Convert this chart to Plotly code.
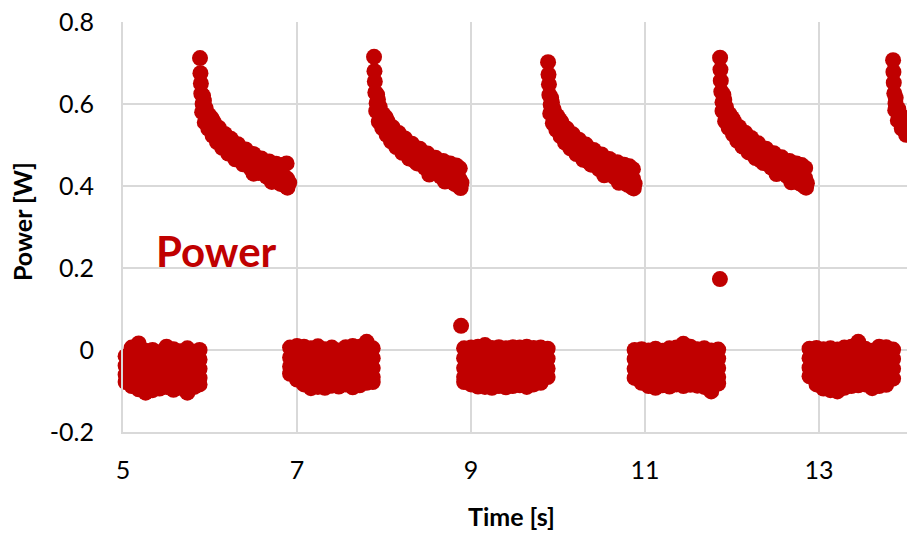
import plotly.graph_objects as go

# ---- measured power samples [W] vs. time [s] ----
# "off" phases: sample times (columns) and the power readings taken around each time
off1_cols = [5.03, 5.10, 5.18, 5.26, 5.34, 5.42, 5.50, 5.58, 5.66, 5.74, 5.82, 5.88]
off1_vals = [[-0.015, -0.038, -0.060, -0.078],
             [0.006, -0.020, -0.044, -0.068, -0.088],
             [0.016, -0.012, -0.040, -0.066, -0.096],
             [-0.002, -0.024, -0.048, -0.074, -0.104],
             [0.000, -0.022, -0.046, -0.072, -0.098],
             [-0.006, -0.028, -0.051, -0.076, -0.094],
             [0.008, -0.018, -0.043, -0.069, -0.090],
             [0.002, -0.021, -0.047, -0.073, -0.097],
             [-0.003, -0.026, -0.050, -0.075, -0.092],
             [0.004, -0.019, -0.045, -0.070, -0.104],
             [-0.004, -0.027, -0.049, -0.074, -0.090],
             [0.000, -0.023, -0.046, -0.068, -0.084]]

off2_cols = [6.92, 7.00, 7.08, 7.16, 7.24, 7.32, 7.40, 7.48, 7.56, 7.64, 7.72, 7.80, 7.87]
off2_vals = [[0.006, -0.018, -0.040, -0.058],
             [0.010, -0.014, -0.038, -0.062, -0.072],
             [0.008, -0.016, -0.041, -0.066, -0.084],
             [0.004, -0.020, -0.045, -0.070, -0.093],
             [0.009, -0.015, -0.040, -0.066, -0.090],
             [0.002, -0.022, -0.047, -0.072, -0.092],
             [0.006, -0.019, -0.044, -0.068, -0.087],
             [-0.001, -0.024, -0.048, -0.071, -0.089],
             [0.007, -0.017, -0.042, -0.067, -0.084],
             [0.010, -0.016, -0.041, -0.066, -0.091],
             [0.008, -0.018, -0.043, -0.068, -0.086],
             [0.020, -0.006, -0.032, -0.058, -0.080],
             [0.004, -0.020, -0.044, -0.066, -0.078]]

off3_cols = [8.885, 8.92, 9.00, 9.08, 9.16, 9.24, 9.32, 9.40, 9.48, 9.56, 9.64, 9.72, 9.80, 9.88]
off3_vals = [[0.059],
             [0.004, -0.020, -0.044, -0.066, -0.078],
             [0.006, -0.018, -0.043, -0.068, -0.084],
             [0.008, -0.016, -0.041, -0.066, -0.089],
             [0.012, -0.013, -0.039, -0.065, -0.090],
             [0.005, -0.019, -0.044, -0.069, -0.092],
             [0.007, -0.018, -0.043, -0.068, -0.088],
             [0.004, -0.021, -0.046, -0.070, -0.091],
             [0.007, -0.017, -0.042, -0.067, -0.088],
             [0.006, -0.019, -0.044, -0.068, -0.086],
             [0.008, -0.016, -0.041, -0.066, -0.090],
             [0.005, -0.020, -0.045, -0.069, -0.084],
             [0.006, -0.018, -0.043, -0.064, -0.080],
             [0.003, -0.021, -0.045, -0.066]]

off4_cols = [10.88, 10.96, 11.04, 11.12, 11.20, 11.28, 11.36, 11.44, 11.52, 11.60, 11.68, 11.76,
             11.84, 11.86]
off4_vals = [[0.000, -0.022, -0.046, -0.068],
             [0.002, -0.020, -0.044, -0.068, -0.080],
             [-0.001, -0.024, -0.048, -0.072, -0.088],
             [0.003, -0.020, -0.045, -0.070, -0.092],
             [-0.002, -0.025, -0.049, -0.072, -0.086],
             [0.004, -0.019, -0.044, -0.069, -0.089],
             [0.006, -0.018, -0.043, -0.068, -0.084],
             [0.015, -0.010, -0.036, -0.062, -0.088],
             [0.008, -0.016, -0.041, -0.066, -0.085],
             [0.002, -0.021, -0.046, -0.070, -0.087],
             [0.004, -0.020, -0.045, -0.070, -0.090],
             [-0.001, -0.024, -0.050, -0.076, -0.101],
             [0.001, -0.021, -0.044, -0.066, -0.082],
             [0.173]]

off5_cols = [12.89, 12.97, 13.05, 13.13, 13.21, 13.29, 13.37, 13.45, 13.53, 13.61, 13.69, 13.77,
             13.85]
off5_vals = [[0.003, -0.020, -0.043, -0.064],
             [0.005, -0.018, -0.043, -0.068, -0.084],
             [0.002, -0.021, -0.046, -0.071, -0.094],
             [0.004, -0.019, -0.045, -0.071, -0.098],
             [0.001, -0.022, -0.047, -0.073, -0.101],
             [0.006, -0.018, -0.043, -0.068, -0.092],
             [0.008, -0.016, -0.041, -0.066, -0.088],
             [0.020, -0.006, -0.032, -0.058, -0.086],
             [0.003, -0.021, -0.046, -0.070, -0.084],
             [-0.002, -0.025, -0.049, -0.073, -0.093],
             [0.008, -0.016, -0.041, -0.066, -0.088],
             [0.007, -0.017, -0.042, -0.067, -0.085],
             [0.001, -0.022, -0.046, -0.070]]

# "on" phases: decaying power after each switch-on
on1_t = [5.885, 5.89, 5.895, 5.90, 5.915, 5.935, 5.96, 6.00, 6.04, 6.09, 6.15, 6.21,
         6.26, 6.33, 6.43, 6.52, 6.61, 6.69, 6.77, 6.84, 6.885,
         5.92, 5.95, 5.99, 6.04, 6.10, 6.17, 6.24, 6.32, 6.41, 6.50, 6.59, 6.68, 6.76, 6.83, 6.88,
         5.91, 5.94, 5.98, 6.03, 6.08, 6.14, 6.21, 6.29, 6.38, 6.47, 6.56, 6.65, 6.74, 6.81, 6.87,
         6.91, 5.93, 6.02, 6.36, 6.50, 6.71, 6.89]
on1_p = [0.712, 0.675, 0.650, 0.625, 0.600, 0.580, 0.565, 0.553, 0.538, 0.522, 0.508, 0.497,
         0.489, 0.478, 0.467, 0.456, 0.445, 0.438, 0.432, 0.425, 0.418,
         0.620, 0.590, 0.573, 0.557, 0.542, 0.527, 0.515, 0.502, 0.489, 0.478, 0.467, 0.460, 0.454,
         0.451, 0.455,
         0.580, 0.555, 0.540, 0.523, 0.507, 0.493, 0.479, 0.465, 0.453, 0.442, 0.432, 0.423, 0.413,
         0.405, 0.400, 0.408, 0.608, 0.565, 0.461, 0.430, 0.410, 0.396]

on2_t = [7.885, 7.89, 7.894, 7.90, 7.915, 7.935, 7.96, 7.995, 8.04, 8.09, 8.15, 8.21,
         8.27, 8.34, 8.43, 8.52, 8.61, 8.69, 8.76, 8.83, 8.87,
         7.92, 7.95, 7.99, 8.04, 8.10, 8.17, 8.24, 8.32, 8.41, 8.50, 8.59, 8.68, 8.76, 8.83, 8.87,
         7.91, 7.94, 7.98, 8.03, 8.08, 8.14, 8.21, 8.29, 8.38, 8.47, 8.56, 8.65, 8.74, 8.81, 8.86,
         8.89, 7.93, 8.02, 8.34, 8.52, 8.70, 8.88]
on2_p = [0.715, 0.680, 0.655, 0.628, 0.602, 0.583, 0.566, 0.551, 0.537, 0.523, 0.510, 0.498,
         0.487, 0.477, 0.466, 0.455, 0.446, 0.437, 0.430, 0.424, 0.416,
         0.623, 0.593, 0.575, 0.558, 0.543, 0.529, 0.516, 0.503, 0.491, 0.479, 0.469, 0.461, 0.455,
         0.450, 0.443,
         0.583, 0.557, 0.541, 0.525, 0.509, 0.495, 0.481, 0.467, 0.455, 0.444, 0.433, 0.423, 0.414,
         0.405, 0.399, 0.408, 0.611, 0.567, 0.463, 0.428, 0.411, 0.395]

on3_t = [9.885, 9.89, 9.895, 9.90, 9.915, 9.935, 9.96, 10.00, 10.04, 10.09, 10.15, 10.21,
         10.27, 10.34, 10.43, 10.52, 10.61, 10.69, 10.76, 10.82, 10.86,
         9.92, 9.95, 9.99, 10.04, 10.10, 10.17, 10.24, 10.32, 10.41, 10.50, 10.59, 10.68, 10.76,
         10.82, 10.86,
         9.91, 9.94, 9.98, 10.03, 10.08, 10.14, 10.21, 10.29, 10.38, 10.47, 10.56, 10.65, 10.74,
         10.80, 10.85, 10.88, 9.93, 10.02, 10.35, 10.53, 10.70, 10.87]
on3_p = [0.702, 0.672, 0.648, 0.622, 0.598, 0.579, 0.563, 0.549, 0.535, 0.520, 0.508, 0.496,
         0.486, 0.476, 0.464, 0.454, 0.444, 0.436, 0.430, 0.424, 0.418,
         0.615, 0.587, 0.571, 0.555, 0.540, 0.526, 0.513, 0.501, 0.488, 0.477, 0.466, 0.458, 0.452,
         0.448, 0.441,
         0.577, 0.553, 0.537, 0.521, 0.506, 0.492, 0.478, 0.464, 0.452, 0.441, 0.431, 0.421, 0.411,
         0.403, 0.397, 0.406, 0.604, 0.561, 0.459, 0.426, 0.408, 0.394]

on4_t = [11.862, 11.866, 11.87, 11.876, 11.89, 11.91, 11.935, 11.97, 12.01, 12.06, 12.12, 12.18,
         12.24, 12.31, 12.40, 12.49, 12.58, 12.66, 12.73, 12.80, 12.84,
         11.90, 11.93, 11.97, 12.02, 12.08, 12.15, 12.22, 12.30, 12.39, 12.48, 12.57, 12.66, 12.74,
         12.80, 12.84,
         11.89, 11.92, 11.96, 12.01, 12.06, 12.12, 12.19, 12.27, 12.36, 12.45, 12.54, 12.63, 12.72,
         12.78, 12.83, 12.86, 11.91, 12.00, 12.33, 12.51, 12.68, 12.85]
on4_p = [0.713, 0.684, 0.657, 0.630, 0.604, 0.584, 0.568, 0.553, 0.538, 0.524, 0.511, 0.499,
         0.489, 0.479, 0.467, 0.456, 0.447, 0.439, 0.432, 0.425, 0.419,
         0.622, 0.592, 0.575, 0.559, 0.544, 0.530, 0.517, 0.504, 0.491, 0.480, 0.470, 0.461, 0.455,
         0.451, 0.444,
         0.583, 0.558, 0.542, 0.526, 0.510, 0.496, 0.482, 0.468, 0.456, 0.445, 0.434, 0.424, 0.414,
         0.406, 0.399, 0.407, 0.610, 0.566, 0.462, 0.429, 0.409, 0.396]

on5_t = [13.85, 13.854, 13.858, 13.864, 13.878, 13.898, 13.922, 13.955, 13.99, 14.03,
         13.88, 13.91, 13.95, 14.00, 13.875, 13.905, 13.95, 14.00]
on5_p = [0.707, 0.678, 0.652, 0.626, 0.601, 0.582, 0.566, 0.552, 0.540, 0.527,
         0.615, 0.588, 0.570, 0.553, 0.585, 0.560, 0.540, 0.525]

x_ticks = [5, 7, 9, 11, 13]
y_ticks = [-0.2, 0, 0.2, 0.4, 0.6, 0.8]
y_tick_text = ["-0.2", "0", "0.2", "0.4", "0.6", "0.8"]

RED = "#C00000"
GRID = "#D9D9D9"
FONT = "Lato"


def expand(cols, vals):
    """Pair every reading with the sample time of its column."""
    ts, ps = [], []
    for t, group in zip(cols, vals):
        for p in group:
            ts.append(t)
            ps.append(p)
    return ts, ps


time, power = [], []
for cols, vals, on_t, on_p in [
    (off1_cols, off1_vals, on1_t, on1_p),
    (off2_cols, off2_vals, on2_t, on2_p),
    (off3_cols, off3_vals, on3_t, on3_p),
    (off4_cols, off4_vals, on4_t, on4_p),
    (off5_cols, off5_vals, on5_t, on5_p),
]:
    ts, ps = expand(cols, vals)
    time += ts + on_t
    power += ps + on_p

fig = go.Figure()
fig.add_trace(go.Scatter(
    x=time, y=power, mode="markers",
    marker=dict(color=RED, size=16, line=dict(width=0)),
    cliponaxis=False, showlegend=False, name="Power",
))

fig.add_annotation(
    x=6.08, y=0.241, xref="x", yref="y", text="<b>Power</b>", showarrow=False,
    font=dict(family=FONT, size=42, color=RED), xanchor="center", yanchor="middle",
)
fig.add_annotation(
    x=0.4955, y=-0.205, xref="paper", yref="paper", text="<b>Time [s]</b>",
    showarrow=False, font=dict(family=FONT, size=25, color="#000000"),
    xanchor="center", yanchor="middle",
)
fig.add_annotation(
    x=-0.1288, y=0.512, xref="paper", yref="paper", text="<b>Power [W]</b>",
    showarrow=False, textangle=-90, font=dict(family=FONT, size=25, color="#000000"),
    xanchor="center", yanchor="middle",
)

fig.update_layout(
    width=907, height=535,
    margin=dict(l=123, r=0, t=22, b=103, pad=0),
    paper_bgcolor="white", plot_bgcolor="white",
    font=dict(family=FONT, size=25, color="#000000"),
    xaxis=dict(
        range=[5, 14.01], tickvals=x_ticks, showgrid=True, gridcolor=GRID, gridwidth=1.5,
        zeroline=False, showline=True, linecolor=GRID, linewidth=2,
        ticks="", ticklabelstandoff=15, tickfont=dict(family=FONT, size=25),
    ),
    yaxis=dict(
        range=[-0.2, 0.8], tickvals=y_ticks, ticktext=y_tick_text, showgrid=True,
        gridcolor=GRID, gridwidth=1.5, zeroline=False, showline=True, linecolor=GRID,
        linewidth=2, ticks="", ticklabelstandoff=22, tickfont=dict(family=FONT, size=25),
    ),
)

fig.write_html("out.html")
